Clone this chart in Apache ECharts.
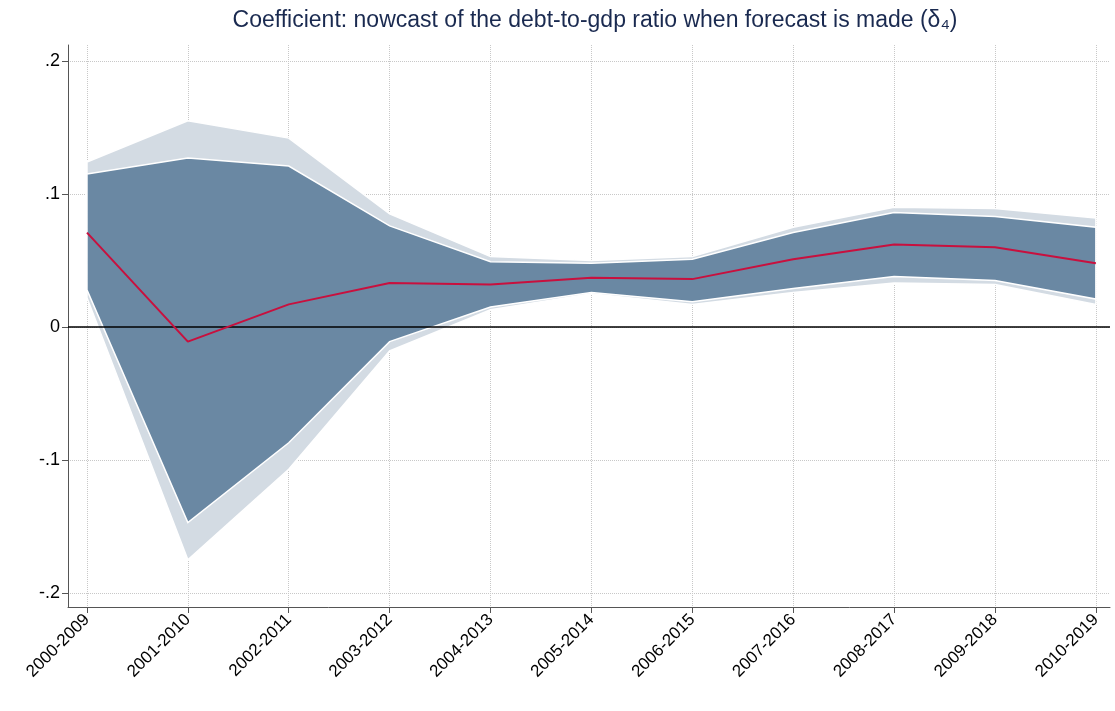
<!DOCTYPE html>
<html><head><meta charset="utf-8">
<script src="https://cdn.jsdelivr.net/npm/echarts@6/dist/echarts.min.js"></script>
<style>html,body{margin:0;background:#fff}#c{width:1115px;height:711px}</style>
</head><body><div id="c"></div>
<script>
var periods = ['2000-2009','2001-2010','2002-2011','2003-2012','2004-2013','2005-2014','2006-2015','2007-2016','2008-2017','2009-2018','2010-2019'];
var coef    = [0.071,-0.011,0.017,0.033,0.032,0.037,0.036,0.051,0.062,0.060,0.048];
var innerHi = [0.115,0.127,0.121,0.076,0.049,0.048,0.051,0.071,0.086,0.083,0.075];
var innerLo = [0.028,-0.147,-0.087,-0.011,0.015,0.026,0.019,0.029,0.038,0.035,0.021];
var outerHi = [0.124,0.155,0.142,0.085,0.053,0.050,0.053,0.075,0.090,0.089,0.082];
var outerLo = [0.022,-0.175,-0.107,-0.018,0.013,0.025,0.017,0.026,0.033,0.032,0.017];
var yTicks  = [-0.2,-0.1,0,0.1,0.2];

function pts(arr){ return arr.map(function(v,i){ return [i,v]; }); }

// whole band as one polygon, corners taken through the axes
function band(hi,lo,color){
	return {
		type:'custom', silent:true,
		data:hi.map(function(v,i){ return [i,lo[i],v]; }),
		renderItem:function(params,api){
			if(params.dataIndex!==0) return null;
			var poly=[],i;
			for(i=0;i<hi.length;i++) poly.push(api.coord([i,hi[i]]));
			for(i=lo.length-1;i>=0;i--) poly.push(api.coord([i,lo[i]]));
			return {type:'polygon',shape:{points:poly},style:{fill:color,stroke:'#fff',lineWidth:1.5}};
		},
		encode:{x:0,y:[1,2]}
	};
}

var chart = echarts.init(document.getElementById('c'));
chart.setOption({
	animation:false,
	title:{
		text:'Coefficient: nowcast of the debt-to-gdp ratio when forecast is made (δ\u2084)',
		left:590, textAlign:'center', top:4,
		textStyle:{color:'#1a2a50',fontSize:23,fontWeight:'normal',fontFamily:'Liberation Sans'}
	},
	grid:{left:68,right:5,top:45,bottom:104},
	xAxis:{
		type:'value', min:-0.188, max:10.14,
		axisLine:{show:true,onZero:false,lineStyle:{color:'#555',width:1}},
		axisTick:{show:true,customValues:[0,1,2,3,4,5,6,7,8,9,10],length:6,lineStyle:{color:'#555'}},
		axisLabel:{customValues:[0,1,2,3,4,5,6,7,8,9,10],rotate:45,color:'#000',fontSize:17,margin:10,
			fontFamily:'Liberation Sans',formatter:function(v){return periods[Math.round(v)];}},
		splitLine:{show:true,lineStyle:{color:'#c8c8c8',type:'dotted'}}
	},
	yAxis:{
		type:'value', min:-0.2105, max:0.212,
		axisLine:{show:true,onZero:false,lineStyle:{color:'#555',width:1}},
		axisTick:{show:true,customValues:yTicks,length:6,lineStyle:{color:'#555'}},
		axisLabel:{customValues:yTicks,color:'#000',fontSize:18,fontFamily:'Liberation Sans',
			formatter:function(v){ if(Math.abs(v)<1e-9) return '0'; return (v<0?'-':'')+Math.abs(v).toFixed(1).replace(/^0/,''); }},
		splitLine:{show:true,lineStyle:{color:'#c8c8c8',type:'dotted'}}
	},
	series:[
		band(outerHi,outerLo,'#d3dbe3'),
		band(innerHi,innerLo,'#6a88a3'),
		{type:'line',data:[[-0.188,0],[10.14,0]],symbol:'none',lineStyle:{color:'#000',width:1.5},silent:true},
		{type:'line',data:pts(coef),symbol:'none',lineStyle:{color:'#c8103e',width:2}}
	]
});
</script></body></html>
